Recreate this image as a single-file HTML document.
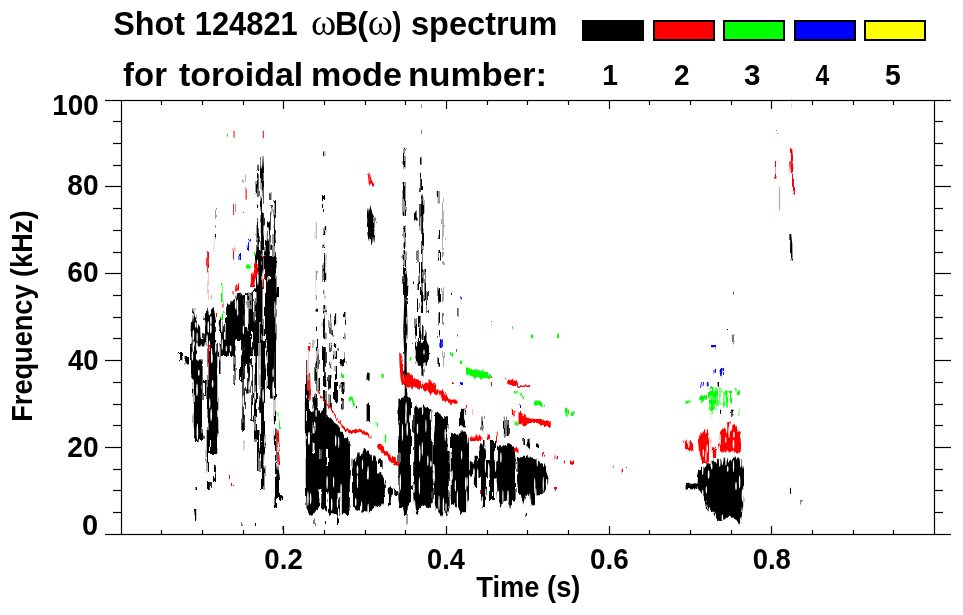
<!DOCTYPE html>
<html><head><meta charset="utf-8"><style>
html,body{margin:0;padding:0;background:#fff;}
svg{display:block;}
.t{font-family:"Liberation Sans",Arial,sans-serif;font-weight:bold;font-size:29px;fill:#000;}
.h{font-family:"Liberation Sans",Arial,sans-serif;font-weight:bold;font-size:34px;fill:#000;}
.w{font-family:"Liberation Serif","DejaVu Serif",serif;font-weight:normal;}
</style></head><body>
<svg width="963" height="615" viewBox="0 0 963 615">
<rect width="963" height="615" fill="#fff"/>
<defs><filter id="jag" x="-5%" y="-5%" width="110%" height="110%" color-interpolation-filters="sRGB"><feTurbulence type="fractalNoise" baseFrequency="0.45 0.06" numOctaves="2" seed="3" result="n"/><feDisplacementMap in="SourceGraphic" in2="n" scale="5" xChannelSelector="R" yChannelSelector="G"/></filter></defs><g filter="url(#jag)"><polygon points="261.2,156 262.3,156 263,170 263.6,178 264,250 260.5,250 260.7,178 260.9,170" fill="#000"/><rect x="256.6" y="164.6" width="2.0" height="6.4" fill="#000"/><rect x="256.6" y="174" width="2.0" height="23" fill="#000"/><rect x="256.6" y="204" width="2.0" height="5" fill="#000"/><rect x="256.6" y="218" width="2.0" height="32" fill="#000"/><rect x="267.8" y="221.5" width="1.8" height="34.5" fill="#000"/><rect x="270.3" y="192" width="1.0" height="8" fill="#000"/><rect x="270.3" y="205" width="1.0" height="25" fill="#000"/><rect x="270.3" y="235" width="1.0" height="15" fill="#000"/><rect x="273.6" y="200" width="2.2" height="56" fill="#000"/><rect x="242" y="178" width="1" height="4" fill="#000"/><rect x="242" y="209" width="1" height="3.6" fill="#000"/><rect x="256" y="250" width="6.5" height="90" fill="#000"/><rect x="256.6" y="240" width="2.0" height="10" fill="#000"/><rect x="265" y="256" width="11.5" height="84" fill="#000"/><rect x="265.5" y="240" width="2.5" height="16" fill="#000"/><rect x="271" y="246" width="1.5" height="10" fill="#000"/><rect x="276.5" y="287" width="1.5" height="10" fill="#000"/><rect x="268.3" y="276" width="1.7" height="4.6" fill="#fff"/><polygon points="235,300 236,294 240,292 242,295 245,293 249,294 252,291 255,289 256,288 256,340 235,340" fill="#000"/><rect x="244.8" y="295" width="2.4" height="33" fill="#fff"/><rect x="253.7" y="292" width="1.6" height="29" fill="#fff"/><rect x="249.5" y="294" width="1.0" height="16" fill="#fff"/><polygon points="193.7,308 195.3,308 196.5,318 201,326 203,330 203,340 191,340 192,322" fill="#000"/><polygon points="206.7,308.5 207.8,309 209,316 212.5,309 213.8,308 215.6,318 216,340 203,340 204.3,318" fill="#000"/><polygon points="219.7,321 222,318 223.8,321 224,340 219.5,340" fill="#000"/><polygon points="226.2,306 229,303 231,301 233,300 235,299 235,340 225.5,340" fill="#000"/><rect x="213.6" y="240" width="0.8" height="11" fill="#bbb"/><rect x="215" y="209" width="1" height="31" fill="#999"/><rect x="214.8" y="229" width="1.2" height="8" fill="#000"/><rect x="242.3" y="178.5" width="1.0" height="3.0" fill="#000"/><rect x="190" y="340" width="27" height="6.5" fill="#000"/><rect x="190" y="346.5" width="6" height="13.5" fill="#000"/><rect x="207.5" y="340" width="9.8" height="100" fill="#000"/><rect x="217.3" y="340" width="17.7" height="16" fill="#000"/><rect x="219" y="356" width="1.5" height="18" fill="#000"/><rect x="233.5" y="356" width="1.5" height="28" fill="#000"/><polygon points="191.3,359.5 202.6,359.5 202.6,440 193.7,440 193.7,380 191.3,378" fill="#000"/><rect x="204" y="380" width="2.7" height="17" fill="#000"/><rect x="179" y="352" width="3.3" height="8" fill="#000"/><rect x="185.6" y="356" width="2.4" height="8.4" fill="#000"/><rect x="235" y="340" width="1.4" height="46" fill="#777"/><rect x="240" y="340" width="4.8" height="6.5" fill="#000"/><rect x="240" y="346.5" width="2.3" height="35.5" fill="#000"/><rect x="242.3" y="340" width="2.5" height="91" fill="#000"/><rect x="244.8" y="340" width="8.1" height="24" fill="#000"/><rect x="247.2" y="364" width="2.4" height="29.7" fill="#000"/><rect x="251.3" y="364" width="1.6" height="57" fill="#000"/><rect x="252.9" y="340" width="8.1" height="16" fill="#000"/><rect x="254.5" y="356" width="2.5" height="84" fill="#000"/><rect x="259.4" y="356" width="1.6" height="57" fill="#000"/><rect x="261" y="340" width="4" height="100" fill="#000"/><rect x="266.7" y="340" width="3.3" height="49" fill="#000"/><rect x="270" y="340" width="4.8" height="58.5" fill="#000"/><rect x="274.8" y="340" width="1.2" height="100" fill="#000"/><rect x="194.5" y="430" width="4.1" height="12" fill="#000"/><rect x="206.7" y="430" width="2.3" height="42" fill="#000"/><rect x="210" y="430" width="7.3" height="24" fill="#000"/><rect x="214" y="465" width="1.6" height="17" fill="#000"/><rect x="207.5" y="482" width="3.3" height="8" fill="#000"/><rect x="194.5" y="487" width="1.5" height="3" fill="#000"/><rect x="194.5" y="509" width="1.7" height="12" fill="#000"/><rect x="242.5" y="440" width="0.8" height="11" fill="#777"/><rect x="254" y="430" width="1.5" height="13" fill="#000"/><rect x="254" y="518" width="1" height="8" fill="#000"/><rect x="257" y="430" width="2.5" height="42" fill="#000"/><rect x="261" y="430" width="3.4" height="60" fill="#000"/><rect x="275" y="430" width="1.6" height="31" fill="#000"/><polygon points="275,461 277,463 279,480 279,498 275,498" fill="#000"/><rect x="279" y="495" width="3.3" height="5" fill="#000"/><rect x="274.5" y="498" width="1.5" height="10" fill="#000"/><rect x="241.5" y="522" width="1.0" height="4" fill="#000"/><rect x="282.5" y="526" width="1.0" height="4" fill="#000"/><rect x="323.1" y="151.4" width="1.1" height="4.9" fill="#000"/><rect x="323" y="195" width="1" height="18" fill="#000"/><rect x="323.6" y="226" width="1.6" height="9" fill="#000"/><rect x="315.8" y="221" width="0.8" height="19" fill="#999"/><polygon points="369.6,204 371,207 372.5,213 374.5,218 374.5,228 374,236 373.5,242 372.8,246 371.5,246 369,238 367.5,234 367,226 367.5,218 368.5,210" fill="#000"/><rect x="323.5" y="243.8" width="1.7" height="4.2" fill="#000"/><rect x="323.5" y="254" width="1.7" height="28" fill="#000"/><rect x="323.5" y="291" width="1.7" height="8" fill="#000"/><rect x="323.5" y="304" width="1.7" height="26" fill="#000"/><rect x="323.2" y="318" width="2.6" height="10" fill="#000"/><rect x="315.8" y="269" width="0.9" height="31" fill="#777"/><rect x="315.8" y="308" width="0.9" height="5" fill="#777"/><rect x="329.6" y="313.7" width="0.8" height="13.9" fill="#000"/><rect x="334.6" y="313" width="1.0" height="11" fill="#000"/><rect x="344" y="313" width="1" height="11" fill="#000"/><rect x="315.6" y="310" width="1.5" height="2.4" fill="#000"/><rect x="316" y="326.6" width="1" height="25.4" fill="#000"/><rect x="315.4" y="359" width="1.9" height="31" fill="#000"/><rect x="323" y="310" width="2.6" height="2" fill="#000"/><rect x="323.2" y="315" width="2.2" height="24.3" fill="#000"/><rect x="322.8" y="323" width="3.0" height="4" fill="#000"/><rect x="323" y="347" width="2.8" height="38" fill="#000"/><rect x="323" y="390" width="3.5" height="30" fill="#000"/><rect x="312.7" y="339.3" width="1.5" height="7.7" fill="#000"/><rect x="317.6" y="348" width="1.4" height="21" fill="#555"/><rect x="329.8" y="314" width="1.4" height="8" fill="#555"/><rect x="329.8" y="327.6" width="1.4" height="7.4" fill="#555"/><rect x="329.8" y="343" width="1.4" height="8" fill="#555"/><rect x="329.8" y="361" width="1.4" height="7.6" fill="#555"/><rect x="334.7" y="314" width="1.4" height="11.6" fill="#000"/><rect x="334.7" y="343" width="1.4" height="4" fill="#000"/><rect x="334.7" y="351" width="1.4" height="7.8" fill="#000"/><rect x="334.7" y="366" width="1.4" height="6" fill="#000"/><polygon points="331,329.5 332,329.5 333.7,337 333,338.3" fill="#000"/><rect x="337.6" y="348" width="1.0" height="3" fill="#000"/><rect x="344" y="313" width="1.4" height="12.6" fill="#000"/><rect x="344" y="334.4" width="1.4" height="3.9" fill="#000"/><rect x="344" y="352" width="1.4" height="11.7" fill="#000"/><rect x="306.3" y="360.8" width="1.5" height="59.2" fill="#000"/><rect x="306.2" y="375" width="2.4" height="45" fill="#000"/><rect x="314.5" y="393" width="2.3" height="27" fill="#000"/><rect x="312.5" y="396" width="1.5" height="14" fill="#000"/><rect x="328.3" y="375" width="3.1" height="13" fill="#000"/><rect x="328.6" y="395" width="2.2" height="13" fill="#000"/><rect x="334" y="382" width="4" height="19" fill="#000"/><rect x="335" y="372" width="2" height="8" fill="#000"/><rect x="340.5" y="359" width="2.5" height="6.5" fill="#000"/><rect x="340.5" y="382" width="4.0" height="11" fill="#000"/><rect x="341" y="398" width="3" height="10" fill="#000"/><rect x="318.5" y="378" width="1.5" height="14" fill="#000"/><polygon points="305.9,390 309.8,390 310,410 313,413 316,408 318,408 321,411 325,413.5 328,417 331,418 334,422 338,424 341,431 345,436.5 348.5,440 349.6,455 349.6,504 347.7,515 343,513 338,517 334,513 330,515 326,512 322,508 318,507 315,511 312,516 309,514 306.5,509 305.7,480" fill="#000"/><rect x="312.6" y="421.7" width="1.9" height="11.7" fill="#fff"/><rect x="312.6" y="443" width="1.9" height="10" fill="#fff"/><rect x="319.4" y="449" width="1.9" height="10" fill="#fff"/><rect x="319.4" y="488" width="1.9" height="23" fill="#fff"/><rect x="326" y="449" width="2" height="16" fill="#fff"/><rect x="326" y="492" width="2" height="27" fill="#fff"/><rect x="339.8" y="492" width="2.0" height="24" fill="#fff"/><rect x="314.5" y="518" width="1.0" height="7" fill="#000"/><rect x="325" y="521" width="1" height="4" fill="#000"/><rect x="337" y="517" width="1" height="8" fill="#000"/><rect x="352.6" y="458.8" width="2.4" height="29.2" fill="#000"/><rect x="356" y="404.4" width="1" height="3.9" fill="#000"/><rect x="315.6" y="397.6" width="2.0" height="9.7" fill="#000"/><rect x="323.4" y="380" width="2.9" height="6" fill="#000"/><rect x="328.3" y="380" width="1.9" height="10" fill="#000"/><rect x="336" y="389.8" width="2" height="12.6" fill="#000"/><rect x="342" y="399.5" width="2" height="9.8" fill="#666"/><polygon points="345,444 349.5,444 349.5,515 345,515" fill="#000"/><polygon points="352,470 354,462 356,461 358,452 359,451 360,456 362,455 364,448 365.6,447.8 366.5,452 368,450 369.5,452 371,455 373.4,454 375.4,457 376,462 376,472.5 380,472.5 382,473 384,478 385.8,485.6 385.8,495 384,501 382,505 379,507 376,505 374,510 371,511 368,513 365,511 362,513 359,510 356,511 354,506 352,496" fill="#000"/><polygon points="387.8,488 391,487 394,489 397.5,492 397.5,494.7 393,495 391,497 390.5,506 389,506 389,495 387.8,493" fill="#000"/><rect x="380" y="459.5" width="2.6" height="8.5" fill="#000"/><rect x="366.6" y="403.7" width="3.4" height="18.3" fill="#000"/><rect x="366.6" y="372.7" width="3.0" height="7.9" fill="#000"/><rect x="413" y="281.5" width="1" height="2.5" fill="#000"/><polygon points="404,266.8 406,266.8 407.5,280 406.8,300 407.6,330 406.5,360 407.5,400 403.5,400 404.5,360 403.2,330 404.3,300 403.2,280" fill="#000"/><rect x="403.6" y="147.8" width="1.8" height="20.5" fill="#000"/><rect x="403.6" y="182" width="1.8" height="34" fill="#000"/><rect x="403.6" y="225" width="1.8" height="15" fill="#000"/><rect x="403.6" y="240" width="1.8" height="8" fill="#000"/><rect x="403.6" y="250" width="1.8" height="16" fill="#000"/><rect x="420.5" y="103.4" width="1.0" height="4.6" fill="#000"/><rect x="420.5" y="129.6" width="1.0" height="4.4" fill="#000"/><rect x="420" y="155.8" width="1.5" height="9.2" fill="#000"/><rect x="420.3" y="172.8" width="1.7" height="18.2" fill="#000"/><rect x="421.3" y="195.6" width="2.0" height="54.4" fill="#000"/><rect x="419.3" y="205" width="1.0" height="25" fill="#000"/><rect x="437.8" y="191" width="1.6" height="12.6" fill="#000"/><rect x="442.3" y="198" width="1.3" height="52" fill="#888"/><rect x="415" y="211.5" width="1.6" height="9.1" fill="#000"/><rect x="416" y="250" width="1.5" height="12" fill="#000"/><rect x="418.5" y="262" width="1.5" height="28" fill="#000"/><rect x="421" y="250" width="1.5" height="62" fill="#000"/><rect x="424.5" y="270" width="1.5" height="30" fill="#000"/><rect x="426.5" y="290" width="1.3" height="23" fill="#000"/><rect x="417" y="298" width="1.5" height="14" fill="#000"/><rect x="415.5" y="318" width="1.5" height="22" fill="#000"/><rect x="419" y="316" width="1.5" height="29" fill="#000"/><rect x="422" y="325" width="1.5" height="15" fill="#000"/><rect x="425" y="330" width="1.5" height="15" fill="#000"/><polygon points="414.4,344 418,341 422,343 426,340 429,346 429,360 426,366.6 420,366 416,364 414.4,356" fill="#000"/><rect x="438.5" y="230" width="1.5" height="9" fill="#000"/><rect x="438.5" y="250" width="1.5" height="9.6" fill="#000"/><rect x="438.5" y="287" width="1.5" height="16" fill="#000"/><rect x="438.5" y="312" width="1.5" height="13.6" fill="#000"/><rect x="438.5" y="330" width="1.5" height="7" fill="#000"/><rect x="438.5" y="357" width="1.5" height="9.6" fill="#000"/><rect x="442.5" y="261" width="1.0" height="4" fill="#555"/><rect x="442.5" y="287" width="1.0" height="16" fill="#555"/><rect x="442.5" y="313" width="1.0" height="12" fill="#555"/><rect x="442.5" y="352" width="1.0" height="15" fill="#555"/><rect x="457" y="308" width="1.7" height="8" fill="#666"/><rect x="457" y="335.5" width="1" height="2.0" fill="#666"/><rect x="456" y="348" width="1" height="3" fill="#666"/><rect x="420.4" y="364" width="3.1" height="12.7" fill="#000"/><polygon points="398.4,400 401,397 404,398 407,396.4 411,398.7 411,503.6 408,506 406.5,515 404.5,515 403,508 400,508 398.4,500" fill="#000"/><polygon points="413.2,407.8 416,405 420,408 424,404 428,408 432.6,410 432.8,503 430,508 427,507 423,505 419.5,508 417.5,515 416,515 414,505 413.2,495" fill="#000"/><polygon points="433.7,415 437,412 440,414 443,418 447,416 449.6,424 449.6,508 447,516.7 444,511 441,516.7 438,510 436,508 434.2,500" fill="#000"/><polygon points="450.8,435 454,433 458,435 462,431 465,432 469,438 469,499 467,505 465,512 461,513.8 458,509 455,503 452,505 450.8,500" fill="#000"/><rect x="447.4" y="403" width="3.4" height="48" fill="#fff"/><rect x="431.4" y="403" width="2.3" height="38" fill="#fff"/><rect x="448.8" y="471.6" width="2.9" height="17.4" fill="#fff"/><polygon points="460,408.8 465,408.8 465,426.3 460,426.3" fill="#000"/><polygon points="469.8,462 475,460.6 480,459 486,460 492,460 497.4,461 497.4,477 492,478 486,477 480,478 474,477 469.8,476" fill="#000"/><rect x="474.6" y="455.8" width="3.3" height="6.2" fill="#000"/><polygon points="479.5,446 482,444 484,447 486,452 486,460 479.5,460" fill="#000"/><rect x="490" y="441" width="5" height="20" fill="#000"/><rect x="483" y="440" width="1.5" height="6" fill="#000"/><rect x="473.8" y="477" width="3.2" height="11" fill="#000"/><rect x="481" y="477" width="5" height="31" fill="#000"/><rect x="489" y="477" width="5" height="23" fill="#000"/><polygon points="497,446 501,445 505,447 509,444 514.6,448 515.6,460 515.6,500.7 512,500 510,510 507,500 503,503 500.5,511 498,500 496.7,480" fill="#000"/><rect x="481.5" y="416.6" width="1.9" height="13.6" fill="#000"/><rect x="503.9" y="416.6" width="1.6" height="21.4" fill="#000"/><rect x="506.5" y="420" width="2.3" height="16" fill="#000"/><rect x="515" y="471.6" width="3.5" height="17.4" fill="#fff"/><polygon points="517.6,457 522,456 526,455.6 531,458 536,460 540,462 544,465 547,470 549.5,477.6 547,486 544,492 540,494 535,495 535,506.5 532,506 529,496 526,494 523,505 521,494 518,492 517,480" fill="#000"/><rect x="523.4" y="439" width="1.6" height="7" fill="#000"/><rect x="527.5" y="438" width="2.0" height="9.8" fill="#000"/><rect x="536.6" y="444" width="1.2" height="3.3" fill="#000"/><rect x="406" y="515" width="0.8" height="10" fill="#888"/><rect x="525.5" y="513" width="1.5" height="3.7" fill="#000"/><rect x="442.3" y="251" width="1.1" height="5" fill="#555"/><rect x="442.3" y="313" width="1.1" height="12" fill="#555"/><rect x="537" y="443.4" width="0.8" height="3.9" fill="#000"/><rect x="733.4" y="291.7" width="1.0" height="2.9" fill="#000"/><rect x="727" y="326" width="1" height="4" fill="#000"/><rect x="732.8" y="334.6" width="1.6" height="8.8" fill="#777"/><rect x="717.6" y="382" width="1.4" height="4.9" fill="#000"/><rect x="721" y="408.7" width="1" height="4.1" fill="#000"/><rect x="731" y="408.7" width="1.7" height="7.5" fill="#000"/><polygon points="722,460 724,456.5 726,461 729,458 731,462 734,455.6 736,460 738,457 741,461 743.2,470 743.2,505 742,515 740,524 736,520 730,516 726,518 722,522 717,520 714,512 707,510 706,503 704,497 701,492 698,490 696.8,486 697,480 699,472 702,466 705,468 707,462 710,464 713,459 716,463 719,458" fill="#000"/><polygon points="684.6,485 688,482.4 692,484 696.8,483 696.8,489.8 690,489 684.6,489.8" fill="#000"/><polygon points="789.5,234 791,234 792.3,245 792.5,260.6 791,260.6 789,248" fill="#000"/><rect x="790" y="487.8" width="1.2" height="6.2" fill="#000"/><rect x="800.5" y="500" width="1.0" height="4.6" fill="#000"/><rect x="236" y="340" width="1.6" height="50" fill="#fff"/><rect x="254" y="292" width="1.2" height="31" fill="#fff"/><rect x="259.4" y="323" width="1.2" height="67" fill="#fff"/><rect x="247.5" y="300" width="1.0" height="30" fill="#fff"/><rect x="251" y="330" width="1" height="30" fill="#fff"/><rect x="201.8" y="319" width="2.4" height="20" fill="#fff"/><rect x="217" y="329" width="2.8" height="15" fill="#fff"/></g><g fill="#fff"><ellipse cx="218.2" cy="330.2" rx="0.62" ry="6.9"/><ellipse cx="236.6" cy="373.1" rx="0.73" ry="3.3"/><ellipse cx="193.3" cy="386.7" rx="0.62" ry="3.4"/><ellipse cx="226.9" cy="465.4" rx="0.66" ry="3.7"/><ellipse cx="244.6" cy="489.5" rx="0.70" ry="6.5"/><ellipse cx="274.9" cy="309.3" rx="0.67" ry="8.2"/><ellipse cx="202.6" cy="323.6" rx="0.80" ry="4.9"/><ellipse cx="205.7" cy="416.3" rx="0.69" ry="6.8"/><ellipse cx="237.7" cy="312.6" rx="0.65" ry="3.4"/><ellipse cx="249.2" cy="385.5" rx="0.75" ry="4.9"/><ellipse cx="229.4" cy="360.0" rx="0.77" ry="7.8"/><ellipse cx="211.2" cy="414.9" rx="0.82" ry="6.2"/><ellipse cx="253.5" cy="357.6" rx="0.63" ry="8.9"/><ellipse cx="226.4" cy="451.4" rx="0.72" ry="3.9"/><ellipse cx="193.4" cy="433.6" rx="0.74" ry="7.6"/><ellipse cx="266.2" cy="362.7" rx="0.75" ry="7.2"/><ellipse cx="240.5" cy="391.2" rx="0.84" ry="8.0"/><ellipse cx="231.2" cy="432.8" rx="0.78" ry="3.4"/><ellipse cx="246.3" cy="498.6" rx="0.67" ry="7.9"/><ellipse cx="223.6" cy="433.7" rx="0.72" ry="3.1"/><ellipse cx="204.6" cy="323.4" rx="0.79" ry="3.4"/><ellipse cx="201.3" cy="349.5" rx="0.82" ry="5.3"/><ellipse cx="197.0" cy="389.8" rx="0.82" ry="6.3"/><ellipse cx="261.3" cy="472.8" rx="0.70" ry="4.7"/><ellipse cx="221.2" cy="476.8" rx="0.64" ry="8.7"/><ellipse cx="205.3" cy="346.4" rx="0.72" ry="4.4"/><ellipse cx="241.3" cy="352.5" rx="0.70" ry="3.0"/><ellipse cx="222.1" cy="413.3" rx="0.77" ry="8.7"/><ellipse cx="234.8" cy="423.5" rx="0.61" ry="7.1"/><ellipse cx="268.3" cy="456.0" rx="0.80" ry="8.2"/><ellipse cx="224.1" cy="379.8" rx="0.76" ry="3.6"/><ellipse cx="195.4" cy="313.5" rx="0.64" ry="4.3"/><ellipse cx="219.6" cy="310.5" rx="0.64" ry="3.0"/><ellipse cx="198.8" cy="372.7" rx="0.82" ry="3.2"/><ellipse cx="243.4" cy="329.7" rx="0.69" ry="4.5"/><ellipse cx="221.7" cy="324.6" rx="0.85" ry="8.1"/><ellipse cx="230.5" cy="396.8" rx="0.63" ry="3.5"/><ellipse cx="219.8" cy="353.0" rx="0.64" ry="8.0"/><ellipse cx="192.0" cy="490.2" rx="0.64" ry="6.2"/><ellipse cx="237.3" cy="305.4" rx="0.84" ry="6.2"/><ellipse cx="265.1" cy="439.2" rx="0.69" ry="4.6"/><ellipse cx="204.5" cy="454.4" rx="0.79" ry="6.2"/><ellipse cx="218.7" cy="344.6" rx="0.85" ry="7.9"/><ellipse cx="264.2" cy="461.2" rx="0.78" ry="7.9"/><ellipse cx="209.7" cy="403.5" rx="0.61" ry="5.1"/><ellipse cx="192.4" cy="355.9" rx="0.77" ry="4.6"/><ellipse cx="273.2" cy="389.4" rx="0.85" ry="8.6"/><ellipse cx="273.1" cy="372.9" rx="0.66" ry="4.3"/><ellipse cx="207.1" cy="340.9" rx="0.83" ry="6.7"/><ellipse cx="263.1" cy="395.9" rx="0.80" ry="6.9"/><ellipse cx="197.4" cy="432.1" rx="0.80" ry="8.5"/><ellipse cx="255.3" cy="395.6" rx="0.80" ry="4.1"/><ellipse cx="218.9" cy="460.2" rx="0.70" ry="8.8"/><ellipse cx="224.9" cy="489.4" rx="0.64" ry="7.3"/><ellipse cx="201.1" cy="330.2" rx="0.80" ry="8.4"/><ellipse cx="202.7" cy="465.3" rx="0.76" ry="8.9"/><ellipse cx="220.5" cy="409.7" rx="0.60" ry="3.8"/><ellipse cx="274.5" cy="429.9" rx="0.83" ry="6.2"/><ellipse cx="227.7" cy="474.3" rx="0.65" ry="8.0"/><ellipse cx="211.9" cy="358.6" rx="0.75" ry="4.4"/><ellipse cx="212.6" cy="383.8" rx="0.83" ry="3.8"/><ellipse cx="220.8" cy="391.6" rx="0.83" ry="6.5"/><ellipse cx="226.6" cy="483.5" rx="0.73" ry="6.0"/><ellipse cx="235.5" cy="303.7" rx="0.65" ry="5.6"/><ellipse cx="190.3" cy="459.8" rx="0.72" ry="4.0"/><ellipse cx="253.1" cy="411.3" rx="0.73" ry="5.0"/><ellipse cx="238.3" cy="456.9" rx="0.74" ry="3.6"/><ellipse cx="211.6" cy="355.4" rx="0.73" ry="7.6"/><ellipse cx="238.9" cy="452.0" rx="0.71" ry="8.5"/><ellipse cx="243.3" cy="401.1" rx="0.77" ry="6.1"/><ellipse cx="210.8" cy="329.0" rx="0.84" ry="4.2"/><ellipse cx="222.2" cy="344.4" rx="0.66" ry="5.8"/><ellipse cx="215.7" cy="347.4" rx="0.63" ry="5.4"/><ellipse cx="195.6" cy="324.9" rx="0.66" ry="2.8"/><ellipse cx="193.4" cy="335.1" rx="0.82" ry="5.2"/><ellipse cx="197.1" cy="337.2" rx="0.64" ry="4.8"/><ellipse cx="230.6" cy="348.5" rx="0.84" ry="3.3"/><ellipse cx="208.3" cy="326.9" rx="0.81" ry="6.0"/><ellipse cx="197.4" cy="324.4" rx="0.68" ry="4.3"/><ellipse cx="199.0" cy="319.3" rx="0.60" ry="5.0"/><ellipse cx="215.5" cy="324.8" rx="0.68" ry="2.6"/><ellipse cx="218.7" cy="328.1" rx="0.85" ry="2.7"/><ellipse cx="226.3" cy="348.7" rx="0.67" ry="2.9"/><ellipse cx="191.8" cy="340.1" rx="0.63" ry="3.4"/><ellipse cx="209.4" cy="346.0" rx="0.66" ry="5.4"/><ellipse cx="196.9" cy="346.4" rx="0.78" ry="4.5"/><ellipse cx="194.1" cy="307.6" rx="0.71" ry="4.9"/><ellipse cx="193.3" cy="347.2" rx="0.80" ry="4.7"/><ellipse cx="193.9" cy="343.5" rx="0.82" ry="2.7"/><ellipse cx="210.9" cy="320.3" rx="0.83" ry="4.4"/><ellipse cx="202.3" cy="310.8" rx="0.66" ry="4.3"/><ellipse cx="195.0" cy="312.3" rx="0.65" ry="2.7"/><ellipse cx="262.6" cy="202.7" rx="0.67" ry="6.8"/><ellipse cx="266.5" cy="184.9" rx="0.60" ry="4.7"/><ellipse cx="261.3" cy="162.1" rx="0.74" ry="6.7"/><ellipse cx="260.0" cy="226.5" rx="0.63" ry="7.7"/><ellipse cx="273.2" cy="220.5" rx="0.81" ry="5.5"/><ellipse cx="264.3" cy="230.9" rx="0.85" ry="6.4"/><ellipse cx="263.2" cy="276.5" rx="0.76" ry="6.5"/><ellipse cx="264.5" cy="208.7" rx="0.63" ry="3.3"/><ellipse cx="257.5" cy="263.7" rx="0.64" ry="4.3"/><ellipse cx="257.8" cy="277.8" rx="0.77" ry="7.4"/><ellipse cx="261.9" cy="193.9" rx="0.71" ry="4.5"/><ellipse cx="259.3" cy="222.4" rx="0.84" ry="4.3"/><ellipse cx="276.4" cy="236.6" rx="0.84" ry="4.2"/><ellipse cx="262.5" cy="209.9" rx="0.70" ry="3.0"/><ellipse cx="266.0" cy="230.4" rx="0.73" ry="4.0"/><ellipse cx="256.1" cy="197.0" rx="0.70" ry="3.4"/><ellipse cx="256.9" cy="163.1" rx="0.66" ry="4.5"/><ellipse cx="268.3" cy="234.1" rx="0.76" ry="6.8"/><ellipse cx="337.5" cy="503.2" rx="0.68" ry="4.9"/><ellipse cx="349.3" cy="425.8" rx="0.76" ry="6.6"/><ellipse cx="307.9" cy="498.5" rx="0.76" ry="7.5"/><ellipse cx="338.3" cy="496.1" rx="0.73" ry="3.7"/><ellipse cx="328.2" cy="498.5" rx="0.81" ry="7.0"/><ellipse cx="331.7" cy="504.6" rx="0.77" ry="6.4"/><ellipse cx="316.1" cy="413.3" rx="0.69" ry="3.7"/><ellipse cx="310.6" cy="498.6" rx="0.76" ry="5.8"/><ellipse cx="333.6" cy="482.2" rx="0.60" ry="5.4"/><ellipse cx="341.1" cy="489.3" rx="0.73" ry="5.5"/><ellipse cx="335.0" cy="417.0" rx="0.66" ry="6.7"/><ellipse cx="309.3" cy="438.1" rx="0.65" ry="6.6"/><ellipse cx="338.6" cy="513.4" rx="0.70" ry="5.5"/><ellipse cx="327.1" cy="482.5" rx="0.75" ry="6.8"/><ellipse cx="334.3" cy="418.2" rx="0.66" ry="3.7"/><ellipse cx="338.7" cy="442.3" rx="0.60" ry="5.8"/><ellipse cx="308.7" cy="438.5" rx="0.77" ry="6.4"/><ellipse cx="335.7" cy="440.8" rx="0.72" ry="5.6"/><ellipse cx="372.5" cy="454.8" rx="0.65" ry="6.6"/><ellipse cx="396.0" cy="508.8" rx="0.71" ry="3.1"/><ellipse cx="388.7" cy="510.9" rx="0.67" ry="4.8"/><ellipse cx="360.7" cy="509.4" rx="0.75" ry="3.8"/><ellipse cx="357.5" cy="481.6" rx="0.63" ry="6.8"/><ellipse cx="388.7" cy="480.6" rx="0.78" ry="6.5"/><ellipse cx="361.6" cy="506.2" rx="0.61" ry="4.9"/><ellipse cx="351.2" cy="479.5" rx="0.68" ry="4.8"/><ellipse cx="357.5" cy="469.7" rx="0.81" ry="4.3"/><ellipse cx="351.1" cy="496.5" rx="0.63" ry="6.4"/><ellipse cx="393.6" cy="494.1" rx="0.67" ry="6.6"/><ellipse cx="368.1" cy="472.9" rx="0.75" ry="7.0"/><ellipse cx="367.6" cy="475.3" rx="0.61" ry="4.1"/><ellipse cx="355.7" cy="502.1" rx="0.83" ry="4.1"/><ellipse cx="362.5" cy="464.5" rx="0.65" ry="5.0"/><ellipse cx="368.2" cy="510.1" rx="0.80" ry="6.5"/><ellipse cx="443.4" cy="506.0" rx="0.74" ry="8.6"/><ellipse cx="449.8" cy="405.7" rx="0.71" ry="7.4"/><ellipse cx="452.2" cy="474.8" rx="0.61" ry="4.7"/><ellipse cx="464.7" cy="414.8" rx="0.69" ry="5.8"/><ellipse cx="419.4" cy="485.7" rx="0.67" ry="8.9"/><ellipse cx="445.2" cy="434.9" rx="0.70" ry="6.3"/><ellipse cx="410.0" cy="418.8" rx="0.83" ry="4.2"/><ellipse cx="433.8" cy="425.5" rx="0.85" ry="8.4"/><ellipse cx="430.4" cy="416.2" rx="0.62" ry="4.2"/><ellipse cx="422.6" cy="410.6" rx="0.66" ry="4.4"/><ellipse cx="439.0" cy="502.9" rx="0.70" ry="7.5"/><ellipse cx="427.8" cy="460.8" rx="0.68" ry="5.3"/><ellipse cx="402.5" cy="432.2" rx="0.63" ry="8.8"/><ellipse cx="434.2" cy="473.0" rx="0.65" ry="8.2"/><ellipse cx="417.5" cy="428.8" rx="0.71" ry="5.4"/><ellipse cx="466.7" cy="498.4" rx="0.61" ry="8.2"/><ellipse cx="400.3" cy="482.3" rx="0.72" ry="8.4"/><ellipse cx="440.3" cy="400.0" rx="0.83" ry="5.3"/><ellipse cx="457.4" cy="499.2" rx="0.66" ry="8.8"/><ellipse cx="405.9" cy="417.9" rx="0.77" ry="6.1"/><ellipse cx="465.8" cy="483.7" rx="0.79" ry="6.9"/><ellipse cx="430.9" cy="464.0" rx="0.80" ry="3.2"/><ellipse cx="414.7" cy="506.7" rx="0.68" ry="6.9"/><ellipse cx="407.2" cy="429.2" rx="0.77" ry="6.8"/><ellipse cx="406.1" cy="408.2" rx="0.75" ry="6.1"/><ellipse cx="425.9" cy="425.9" rx="0.60" ry="6.6"/><ellipse cx="419.7" cy="453.4" rx="0.76" ry="8.8"/><ellipse cx="461.6" cy="455.1" rx="0.66" ry="4.4"/><ellipse cx="467.2" cy="481.7" rx="0.61" ry="4.8"/><ellipse cx="433.9" cy="478.2" rx="0.66" ry="5.5"/><ellipse cx="446.0" cy="507.3" rx="0.61" ry="4.4"/><ellipse cx="422.3" cy="448.8" rx="0.65" ry="7.1"/><ellipse cx="455.4" cy="485.7" rx="0.65" ry="6.0"/><ellipse cx="467.8" cy="436.2" rx="0.66" ry="7.9"/><ellipse cx="413.9" cy="488.2" rx="0.84" ry="4.8"/><ellipse cx="433.7" cy="421.7" rx="0.70" ry="4.3"/><ellipse cx="424.0" cy="364.9" rx="0.70" ry="2.3"/><ellipse cx="417.2" cy="365.4" rx="0.61" ry="2.3"/><ellipse cx="414.9" cy="352.7" rx="0.82" ry="3.8"/><ellipse cx="425.0" cy="365.9" rx="0.68" ry="3.9"/><ellipse cx="416.8" cy="364.6" rx="0.61" ry="3.5"/><ellipse cx="424.0" cy="352.3" rx="0.68" ry="2.7"/><ellipse cx="416.5" cy="344.1" rx="0.69" ry="2.6"/><ellipse cx="546.4" cy="448.7" rx="0.65" ry="7.8"/><ellipse cx="498.5" cy="497.5" rx="0.71" ry="7.1"/><ellipse cx="473.9" cy="473.1" rx="0.83" ry="4.9"/><ellipse cx="485.4" cy="465.5" rx="0.61" ry="7.5"/><ellipse cx="502.9" cy="496.8" rx="0.61" ry="6.8"/><ellipse cx="472.8" cy="444.4" rx="0.66" ry="7.6"/><ellipse cx="529.8" cy="502.9" rx="0.67" ry="4.7"/><ellipse cx="546.6" cy="483.2" rx="0.78" ry="4.3"/><ellipse cx="495.3" cy="459.3" rx="0.79" ry="3.0"/><ellipse cx="543.3" cy="484.4" rx="0.61" ry="7.7"/><ellipse cx="488.7" cy="473.3" rx="0.84" ry="7.8"/><ellipse cx="500.9" cy="457.6" rx="0.72" ry="5.1"/><ellipse cx="544.2" cy="452.8" rx="0.78" ry="7.0"/><ellipse cx="535.8" cy="494.1" rx="0.68" ry="6.0"/><ellipse cx="495.6" cy="465.3" rx="0.62" ry="6.9"/><ellipse cx="485.8" cy="492.7" rx="0.62" ry="4.2"/><ellipse cx="472.7" cy="478.7" rx="0.85" ry="4.6"/><ellipse cx="540.7" cy="509.1" rx="0.62" ry="4.3"/><ellipse cx="477.7" cy="474.9" rx="0.71" ry="6.5"/><ellipse cx="488.7" cy="469.2" rx="0.77" ry="6.1"/><ellipse cx="529.8" cy="499.3" rx="0.63" ry="6.3"/><ellipse cx="537.3" cy="460.6" rx="0.69" ry="5.8"/><ellipse cx="529.0" cy="453.9" rx="0.66" ry="4.2"/><ellipse cx="482.3" cy="501.9" rx="0.68" ry="5.9"/><ellipse cx="501.7" cy="509.5" rx="0.66" ry="5.5"/><ellipse cx="534.7" cy="485.7" rx="0.63" ry="8.0"/><ellipse cx="508.0" cy="497.3" rx="0.83" ry="7.2"/><ellipse cx="473.2" cy="460.6" rx="0.65" ry="3.6"/><ellipse cx="742.4" cy="495.2" rx="0.69" ry="6.7"/><ellipse cx="736.0" cy="486.0" rx="0.79" ry="4.0"/><ellipse cx="740.7" cy="462.3" rx="0.75" ry="5.4"/><ellipse cx="697.1" cy="480.4" rx="0.65" ry="3.6"/><ellipse cx="699.3" cy="496.4" rx="0.65" ry="5.6"/><ellipse cx="684.7" cy="477.6" rx="0.65" ry="5.7"/><ellipse cx="702.7" cy="469.0" rx="0.74" ry="6.2"/><ellipse cx="687.8" cy="462.0" rx="0.74" ry="4.6"/><ellipse cx="722.4" cy="461.3" rx="0.77" ry="3.7"/><ellipse cx="708.6" cy="474.5" rx="0.84" ry="4.2"/><ellipse cx="702.7" cy="494.1" rx="0.70" ry="4.4"/><ellipse cx="735.9" cy="523.8" rx="0.65" ry="4.5"/><ellipse cx="727.7" cy="469.1" rx="0.83" ry="3.0"/><ellipse cx="709.4" cy="511.6" rx="0.82" ry="4.6"/><ellipse cx="711.7" cy="466.2" rx="0.74" ry="3.1"/><ellipse cx="722.4" cy="517.8" rx="0.76" ry="3.4"/><ellipse cx="706.3" cy="489.8" rx="0.67" ry="3.6"/><ellipse cx="715.3" cy="518.9" rx="0.72" ry="3.4"/><ellipse cx="732.3" cy="521.7" rx="0.63" ry="3.8"/><ellipse cx="740.6" cy="522.3" rx="0.61" ry="4.9"/><ellipse cx="739.6" cy="481.8" rx="0.76" ry="6.6"/><ellipse cx="733.5" cy="466.1" rx="0.66" ry="6.1"/></g><g filter="url(#jag)"><rect x="245.6" y="173.6" width="1.1" height="26.0" fill="#f00"/><polygon points="247,251 248,244 249.5,238.6 250.4,239.5 249,246 248.5,251" fill="#00f"/><rect x="263" y="256" width="1" height="33" fill="#f00"/><polygon points="250,287 252,276 254,264 256,261 258,262 257,272 255,280 254,287" fill="#f00"/><polygon points="235.8,292 236.5,286 238.3,283 238,290" fill="#f00"/><rect x="246.4" y="264.4" width="4.0" height="4.1" fill="#0f0"/><rect x="240" y="264" width="1" height="4" fill="#0f0"/><rect x="255" y="253" width="1" height="3" fill="#0f0"/><polygon points="247,251 248.5,244 250.4,240 249.5,248 248.5,251" fill="#00f"/><rect x="239.5" y="253" width="1.5" height="7" fill="#00f"/><rect x="207.2" y="252" width="1.8" height="20.5" fill="#f00"/><rect x="208" y="272.5" width="0.6" height="27.5" fill="#f99"/><rect x="232.7" y="248" width="1.6" height="11.5" fill="#f00"/><rect x="233.5" y="291" width="1.0" height="4" fill="#f00"/><rect x="211.6" y="295" width="1.1" height="4" fill="#f00"/><rect x="216" y="313" width="1" height="3" fill="#f00"/><rect x="221.5" y="304" width="1.0" height="4" fill="#f00"/><rect x="220.9" y="283" width="1.6" height="20" fill="#0f0"/><polygon points="221,319.7 222,313 223.8,311.5 223.5,319.7" fill="#0f0"/><rect x="233.5" y="130.7" width="1.0" height="6.9" fill="#f00"/><rect x="227" y="134" width="1" height="3.6" fill="#0f0"/><rect x="262.8" y="129.8" width="1.0" height="8.7" fill="#f00"/><rect x="233.2" y="204" width="1.3" height="16.5" fill="#f00"/><polygon points="277.3,413 278.5,414 280.5,428 279.5,430" fill="#0f0"/><rect x="277" y="432" width="1" height="8" fill="#f00"/><polygon points="276.6,430 277.6,430 278.5,443 280.7,458 280.7,465 278.5,465 277.5,445" fill="#f00"/><polygon points="368,173.5 369,173.3 370.5,180 372,181 374,184 374,186.5 372.5,186 371,183 369.5,186 368.5,182" fill="#f00"/><rect x="308" y="343" width="1.3" height="7" fill="#f00"/><rect x="308.3" y="350" width="0.6" height="50" fill="#f99"/><polygon points="309,372 310.3,372 310.6,400 309.4,400" fill="#f00"/><rect x="342" y="373.7" width="2" height="3.3" fill="#0f0"/><polygon points="349.5,396.4 351,397 353.5,403 352.5,404.5 350,400" fill="#0f0"/><polygon points="317.0,389.5 321.0,395.0 325.4,400.5 329.0,405.5 332.2,410.0 336.0,415.5 339.0,420.5 342.0,426.0 346.8,429.0 351.0,430.0 354.6,430.0 358.5,428.0 362.0,430.0 366.0,432.0 370.0,434.5 370.8,437.9 366.8,435.4 362.8,433.4 359.3,431.4 355.4,433.4 351.8,433.4 347.6,432.4 342.8,429.4 339.8,423.9 336.8,418.9 333.0,413.4 329.8,408.9 326.2,403.9 321.8,398.4 317.8,392.9" fill="#f00"/><polygon points="308.3,380 309.5,380 310.2,388 310.4,399.5 309,399.5 308.3,390" fill="#f00"/><rect x="348.8" y="395.6" width="1.2" height="7.4" fill="#0f0"/><polygon points="351,398 352.5,399 354.1,406 353,407.3" fill="#0f0"/><polygon points="349.5,397 351,396 355,404 354,408" fill="#0f0"/><rect x="375.7" y="423" width="3.3" height="3.4" fill="#0f0"/><rect x="384.8" y="435.5" width="2.2" height="6.9" fill="#0f0"/><rect x="381.4" y="373.8" width="2.3" height="3.4" fill="#0f0"/><polygon points="378,442.4 382,446 386,451 390,455 395,459 398.5,462 398.5,466 395,465 390,461 385,456 380,450 377,446" fill="#f00"/><rect x="439.4" y="339" width="3.4" height="8" fill="#00f"/><rect x="450.8" y="290" width="1.2" height="5" fill="#00f"/><rect x="460.5" y="296" width="1.3" height="3.4" fill="#00f"/><rect x="451" y="291" width="1" height="3.6" fill="#00f"/><rect x="409.8" y="356" width="1.6" height="3.7" fill="#0f0"/><rect x="451" y="353" width="1" height="3" fill="#0f0"/><rect x="460" y="360.6" width="2" height="3.4" fill="#0f0"/><rect x="451" y="352.7" width="1" height="3.3" fill="#0f0"/><rect x="440" y="339" width="2" height="8" fill="#00f"/><polygon points="399.2,352.4 400.5,353 402,363 403.5,372 404,385 402,385.2 400.5,378 399.5,365" fill="#f00"/><polygon points="404,377 405,376 407,373.5 409,374 410.5,376 412,375 414,378.8 417,379.5 420,380 421.4,383 421.4,387 419,390.5 416,387 413,390.5 410,386 407,387 404,383" fill="#f00"/><polygon points="421,384 423.5,385 426,382 428,383 430,378.8 432,384 434,382 435.5,386 437,389 439.4,390 439.4,394 436,394.7 433,392 430,394.7 427,391 423.5,390 421,387" fill="#f00"/><polygon points="439,391 441.5,392 443,389.4 445,392 447.9,398 449,399.4 457.4,399.4 457.4,403.7 449,403.7 447.9,402 444,401 441.5,399" fill="#f00"/><rect x="452" y="382" width="1" height="4" fill="#f00"/><rect x="395" y="455.6" width="1" height="6.8" fill="#f00"/><rect x="479" y="490.5" width="1.8" height="4.5" fill="#f00"/><polygon points="465,368 467,366 470,369 473,370 476,369 479,371 482,369 485,372 488,372 490,376 490,379 486,378 482,379 478,377 474,378 470,376 466,373" fill="#0f0"/><rect x="491" y="377.5" width="1" height="7.9" fill="#f00"/><polygon points="506,378.5 509,380 512,378.5 515,381 518.5,383 518.5,386.3 513,386 508,384" fill="#f00"/><rect x="518.5" y="385.4" width="12.5" height="1.6" fill="#f00"/><rect x="530" y="385" width="1" height="4" fill="#f00"/><rect x="514.6" y="391" width="2.0" height="3" fill="#0f0"/><polygon points="519.5,392 521,393 524.4,398 523.5,399.5 520,395" fill="#0f0"/><polygon points="534,400 540,401 544,404 543,407 538,405 534,404" fill="#0f0"/><rect x="566.3" y="408.8" width="2.0" height="7.8" fill="#0f0"/><rect x="572" y="413" width="2" height="3" fill="#0f0"/><rect x="519.5" y="404" width="1.5" height="4" fill="#00f"/><rect x="460" y="382.4" width="3" height="3.0" fill="#00f"/><polygon points="511.7,409 514.6,411 514.6,416.6 512,415" fill="#f00"/><polygon points="518.5,411 521,410.7 524.4,416 530,418.5 536,419 542,419 546,420 549.8,421 549.8,426.3 543,425 537,423 530,423 524.4,425.4 518.5,424" fill="#f00"/><rect x="514.6" y="421.5" width="3.0" height="3.9" fill="#0f0"/><rect x="546" y="430" width="1" height="4" fill="#0f0"/><rect x="545.6" y="429.8" width="1.0" height="3.9" fill="#0f0"/><rect x="465" y="400" width="1" height="7.8" fill="#f00"/><rect x="472.7" y="408.8" width="1.3" height="5.8" fill="#f00"/><polygon points="470.6,441 472,436 474,438 476,433 478,437 480,434 482.8,438 482,441 478,440 475,441" fill="#f00"/><rect x="487.6" y="434.6" width="1.7" height="6.4" fill="#f00"/><rect x="495.8" y="431.4" width="1.9" height="11.4" fill="#f00"/><rect x="503" y="425.7" width="1" height="3.3" fill="#f00"/><rect x="479" y="490" width="1" height="4.8" fill="#f00"/><rect x="496" y="432" width="1" height="10" fill="#f00"/><rect x="513.7" y="447.8" width="4.8" height="3.9" fill="#f00"/><rect x="543" y="452.7" width="1" height="3.9" fill="#f00"/><rect x="555.6" y="455.6" width="0.8" height="3.9" fill="#f00"/><rect x="564" y="460.5" width="1" height="2.9" fill="#f00"/><rect x="570" y="460.5" width="3" height="3.9" fill="#f00"/><rect x="554" y="487" width="1" height="3" fill="#f00"/><rect x="556" y="456" width="1" height="4" fill="#f00"/><rect x="621.7" y="468.8" width="1.3" height="4.9" fill="#f00"/><rect x="613.5" y="465" width="1.0" height="3" fill="#f00"/><rect x="626" y="466" width="1" height="2" fill="#f00"/><rect x="491" y="322" width="1" height="3.4" fill="#0f0"/><rect x="512" y="325.4" width="1" height="3.4" fill="#0f0"/><rect x="530" y="334.5" width="3.3" height="3.5" fill="#0f0"/><rect x="557" y="334.5" width="1" height="3.5" fill="#0f0"/><rect x="711" y="345" width="5" height="2.3" fill="#00f"/><rect x="715" y="343.4" width="1" height="3.9" fill="#00f"/><rect x="714.5" y="369.8" width="1.5" height="3.9" fill="#00f"/><polygon points="720.3,368.8 723.7,369 722.5,377.6 721.5,377.6" fill="#00f"/><polygon points="700.2,386.9 700.8000000000001,382 701.8000000000001,382 701.2,386.9" fill="#00f"/><polygon points="702.5,386.9 703.1,382 704.1,382 703.5,386.9" fill="#00f"/><polygon points="704.5,386.9 705.1,382 706.1,382 705.5,386.9" fill="#00f"/><polygon points="706.5,386.9 707.1,382 708.1,382 707.5,386.9" fill="#00f"/><polygon points="708,386.9 708.6,382 709.6,382 709,386.9" fill="#00f"/><polygon points="698.9,395 707,395 707,399.8 704,399.8 703.5,403 702,403 701.5,399.8 698.9,399.8" fill="#0f0"/><rect x="709.1" y="392" width="1.4" height="18" fill="#0f0"/><rect x="710.8" y="387" width="1.4" height="27" fill="#0f0"/><rect x="712.5" y="388" width="1.4" height="21" fill="#0f0"/><rect x="714.5" y="386.9" width="1.4" height="23.1" fill="#0f0"/><rect x="716.3" y="389" width="1.4" height="18" fill="#0f0"/><rect x="709.1" y="392" width="8.9" height="4" fill="#0f0"/><rect x="709.5" y="400" width="7.5" height="4" fill="#0f0"/><rect x="719" y="387" width="1.4" height="17" fill="#7f7"/><rect x="720" y="391" width="11" height="1.3" fill="#7f7"/><rect x="720" y="403" width="7" height="1.5" fill="#7f7"/><rect x="723.5" y="391" width="1.3" height="16.5" fill="#0f0"/><rect x="726.2" y="391" width="2.0" height="15.7" fill="#0f0"/><rect x="730" y="391" width="1" height="13" fill="#0f0"/><polygon points="736,387 737,387 739.8,393 739.5,395 737.5,394" fill="#0f0"/><rect x="738" y="408.7" width="1.5" height="8.3" fill="#7f7"/><rect x="690" y="400" width="1" height="4" fill="#7f7"/><rect x="710.8" y="410" width="1.4" height="10" fill="#7f7"/><rect x="684.6" y="400.7" width="4.9" height="2.3" fill="#0f0"/><polygon points="682.2,440 686,438.5 690,441 694.4,443 694,450.7 688,450 683,448" fill="#f00"/><polygon points="698,440 702,432 705,428.8 708,432 710.2,440 710,455 707,463 702,463 699,455" fill="#f00"/><polygon points="711.5,448 714,446 716.3,450 716,458 712,458" fill="#f00"/><polygon points="717.6,440 720,432 723,428 726,432 728,424 730,421.5 732,426 735,424 738,430 740.7,432 740.7,453 735,452 730,451 725,453 720,451 717.6,446" fill="#f00"/><rect x="791" y="99.4" width="1.2" height="8.8" fill="#9f9"/><rect x="777" y="130" width="1" height="4.6" fill="#0f0"/><rect x="789" y="130" width="1" height="4.6" fill="#f88"/><polygon points="790,148 791,148 793,165 794,180 794,194.7 793,194.7 791,175 790,160" fill="#f00"/><rect x="775" y="161" width="1.4" height="17.5" fill="#f00"/><rect x="778.4" y="187.4" width="1.4" height="24.9" fill="#f66"/><rect x="229" y="474" width="1" height="4" fill="#f00"/><rect x="231" y="483" width="1" height="4" fill="#f00"/><rect x="207.8" y="344" width="1.7" height="19" fill="#f00"/><rect x="208.3" y="363" width="0.7" height="17" fill="#f99"/></g><g fill="#fff"><ellipse cx="705.9" cy="456.5" rx="0.65" ry="5.4"/><ellipse cx="694.9" cy="437.8" rx="0.70" ry="4.3"/><ellipse cx="689.3" cy="431.4" rx="0.82" ry="5.0"/><ellipse cx="684.4" cy="444.6" rx="0.61" ry="5.2"/><ellipse cx="731.5" cy="425.9" rx="0.74" ry="4.6"/><ellipse cx="719.0" cy="433.9" rx="0.75" ry="4.0"/><ellipse cx="707.1" cy="448.7" rx="0.71" ry="4.1"/><ellipse cx="683.4" cy="447.0" rx="0.66" ry="4.2"/><ellipse cx="727.1" cy="453.8" rx="0.64" ry="4.1"/><ellipse cx="709.9" cy="425.5" rx="0.71" ry="2.9"/><ellipse cx="687.4" cy="439.6" rx="0.61" ry="4.3"/><ellipse cx="719.5" cy="424.5" rx="0.79" ry="5.1"/><ellipse cx="712.2" cy="423.3" rx="0.69" ry="4.3"/><ellipse cx="738.1" cy="426.7" rx="0.85" ry="5.5"/><ellipse cx="725.2" cy="455.2" rx="0.85" ry="3.2"/><ellipse cx="711.0" cy="461.2" rx="0.64" ry="5.7"/><ellipse cx="728.5" cy="460.1" rx="0.69" ry="2.7"/><ellipse cx="726.6" cy="427.7" rx="0.67" ry="5.6"/><ellipse cx="730.1" cy="427.0" rx="0.83" ry="4.3"/><ellipse cx="694.3" cy="432.0" rx="0.68" ry="4.3"/><ellipse cx="684.2" cy="428.6" rx="0.83" ry="3.1"/><ellipse cx="722.1" cy="458.6" rx="0.80" ry="3.1"/><ellipse cx="688.8" cy="443.3" rx="0.69" ry="4.7"/><ellipse cx="733.5" cy="444.3" rx="0.82" ry="4.5"/><ellipse cx="688.2" cy="462.7" rx="0.70" ry="4.7"/><ellipse cx="729.1" cy="432.1" rx="0.74" ry="6.0"/><ellipse cx="703.3" cy="453.1" rx="0.64" ry="4.0"/><ellipse cx="725.9" cy="423.0" rx="0.66" ry="5.4"/><ellipse cx="719.7" cy="462.3" rx="0.77" ry="4.6"/><ellipse cx="700.4" cy="421.1" rx="0.64" ry="2.6"/><ellipse cx="718.3" cy="439.2" rx="0.82" ry="4.3"/><ellipse cx="689.8" cy="430.5" rx="0.61" ry="4.8"/><ellipse cx="682.2" cy="435.9" rx="0.69" ry="2.9"/><ellipse cx="695.2" cy="445.5" rx="0.65" ry="4.6"/><ellipse cx="718.8" cy="440.9" rx="0.83" ry="3.0"/><ellipse cx="696.4" cy="427.3" rx="0.76" ry="2.8"/><ellipse cx="733.4" cy="453.9" rx="0.67" ry="3.9"/><ellipse cx="682.7" cy="448.1" rx="0.69" ry="4.5"/><ellipse cx="720.1" cy="439.6" rx="0.78" ry="5.8"/><ellipse cx="696.7" cy="458.9" rx="0.73" ry="2.7"/><ellipse cx="706.0" cy="431.0" rx="0.79" ry="2.7"/><ellipse cx="682.7" cy="444.1" rx="0.64" ry="5.8"/><ellipse cx="693.8" cy="446.5" rx="0.76" ry="4.3"/><ellipse cx="730.0" cy="428.3" rx="0.68" ry="3.6"/><ellipse cx="684.9" cy="458.4" rx="0.78" ry="5.2"/><ellipse cx="682.4" cy="456.5" rx="0.72" ry="5.1"/><ellipse cx="725.8" cy="440.0" rx="0.63" ry="3.3"/><ellipse cx="695.7" cy="422.6" rx="0.79" ry="3.7"/><ellipse cx="723.0" cy="456.5" rx="0.67" ry="5.0"/><ellipse cx="714.7" cy="439.3" rx="0.73" ry="5.3"/><ellipse cx="697.7" cy="448.0" rx="0.65" ry="5.9"/><ellipse cx="733.9" cy="421.6" rx="0.66" ry="3.4"/><ellipse cx="725.9" cy="460.7" rx="0.68" ry="5.1"/><ellipse cx="733.9" cy="434.8" rx="0.83" ry="3.3"/><ellipse cx="719.2" cy="450.1" rx="0.84" ry="4.8"/><ellipse cx="719.2" cy="411.2" rx="0.81" ry="3.4"/><ellipse cx="717.9" cy="407.7" rx="0.68" ry="3.1"/><ellipse cx="708.7" cy="404.7" rx="0.83" ry="2.2"/><ellipse cx="705.9" cy="386.8" rx="0.83" ry="2.2"/><ellipse cx="714.1" cy="390.3" rx="0.61" ry="2.1"/><ellipse cx="728.4" cy="405.0" rx="0.78" ry="3.4"/><ellipse cx="702.7" cy="403.7" rx="0.80" ry="2.7"/><ellipse cx="733.6" cy="412.7" rx="0.82" ry="2.1"/><ellipse cx="737.5" cy="414.3" rx="0.65" ry="2.2"/><ellipse cx="704.6" cy="387.0" rx="0.80" ry="3.7"/></g>
<g stroke="#000" stroke-width="1.2" fill="none"><rect x="121.5" y="100.5" width="813.0" height="434.0" fill="none"/><line x1="105" y1="534.5" x2="121.5" y2="534.5"/><line x1="934.5" y1="534.5" x2="951" y2="534.5"/><line x1="113" y1="512.5" x2="121.5" y2="512.5"/><line x1="934.5" y1="512.5" x2="943" y2="512.5"/><line x1="113" y1="490.5" x2="121.5" y2="490.5"/><line x1="934.5" y1="490.5" x2="943" y2="490.5"/><line x1="113" y1="469.5" x2="121.5" y2="469.5"/><line x1="934.5" y1="469.5" x2="943" y2="469.5"/><line x1="105" y1="447.5" x2="121.5" y2="447.5"/><line x1="934.5" y1="447.5" x2="951" y2="447.5"/><line x1="113" y1="425.5" x2="121.5" y2="425.5"/><line x1="934.5" y1="425.5" x2="943" y2="425.5"/><line x1="113" y1="404.5" x2="121.5" y2="404.5"/><line x1="934.5" y1="404.5" x2="943" y2="404.5"/><line x1="113" y1="382.5" x2="121.5" y2="382.5"/><line x1="934.5" y1="382.5" x2="943" y2="382.5"/><line x1="105" y1="360.5" x2="121.5" y2="360.5"/><line x1="934.5" y1="360.5" x2="951" y2="360.5"/><line x1="113" y1="338.5" x2="121.5" y2="338.5"/><line x1="934.5" y1="338.5" x2="943" y2="338.5"/><line x1="113" y1="317.5" x2="121.5" y2="317.5"/><line x1="934.5" y1="317.5" x2="943" y2="317.5"/><line x1="113" y1="295.5" x2="121.5" y2="295.5"/><line x1="934.5" y1="295.5" x2="943" y2="295.5"/><line x1="105" y1="273.5" x2="121.5" y2="273.5"/><line x1="934.5" y1="273.5" x2="951" y2="273.5"/><line x1="113" y1="252.5" x2="121.5" y2="252.5"/><line x1="934.5" y1="252.5" x2="943" y2="252.5"/><line x1="113" y1="230.5" x2="121.5" y2="230.5"/><line x1="934.5" y1="230.5" x2="943" y2="230.5"/><line x1="113" y1="208.5" x2="121.5" y2="208.5"/><line x1="934.5" y1="208.5" x2="943" y2="208.5"/><line x1="105" y1="186.5" x2="121.5" y2="186.5"/><line x1="934.5" y1="186.5" x2="951" y2="186.5"/><line x1="113" y1="165.5" x2="121.5" y2="165.5"/><line x1="934.5" y1="165.5" x2="943" y2="165.5"/><line x1="113" y1="143.5" x2="121.5" y2="143.5"/><line x1="934.5" y1="143.5" x2="943" y2="143.5"/><line x1="113" y1="121.5" x2="121.5" y2="121.5"/><line x1="934.5" y1="121.5" x2="943" y2="121.5"/><line x1="105" y1="100.5" x2="121.5" y2="100.5"/><line x1="934.5" y1="100.5" x2="951" y2="100.5"/><line x1="161.5" y1="534.5" x2="161.5" y2="530.0"/><line x1="161.5" y1="100.5" x2="161.5" y2="105.0"/><line x1="202.5" y1="534.5" x2="202.5" y2="530.0"/><line x1="202.5" y1="100.5" x2="202.5" y2="105.0"/><line x1="243.5" y1="534.5" x2="243.5" y2="530.0"/><line x1="243.5" y1="100.5" x2="243.5" y2="105.0"/><line x1="283.5" y1="534.5" x2="283.5" y2="526.0"/><line x1="283.5" y1="100.5" x2="283.5" y2="109.0"/><line x1="324.5" y1="534.5" x2="324.5" y2="530.0"/><line x1="324.5" y1="100.5" x2="324.5" y2="105.0"/><line x1="365.5" y1="534.5" x2="365.5" y2="530.0"/><line x1="365.5" y1="100.5" x2="365.5" y2="105.0"/><line x1="405.5" y1="534.5" x2="405.5" y2="530.0"/><line x1="405.5" y1="100.5" x2="405.5" y2="105.0"/><line x1="446.5" y1="534.5" x2="446.5" y2="526.0"/><line x1="446.5" y1="100.5" x2="446.5" y2="109.0"/><line x1="487.5" y1="534.5" x2="487.5" y2="530.0"/><line x1="487.5" y1="100.5" x2="487.5" y2="105.0"/><line x1="527.5" y1="534.5" x2="527.5" y2="530.0"/><line x1="527.5" y1="100.5" x2="527.5" y2="105.0"/><line x1="568.5" y1="534.5" x2="568.5" y2="530.0"/><line x1="568.5" y1="100.5" x2="568.5" y2="105.0"/><line x1="609.5" y1="534.5" x2="609.5" y2="526.0"/><line x1="609.5" y1="100.5" x2="609.5" y2="109.0"/><line x1="649.5" y1="534.5" x2="649.5" y2="530.0"/><line x1="649.5" y1="100.5" x2="649.5" y2="105.0"/><line x1="690.5" y1="534.5" x2="690.5" y2="530.0"/><line x1="690.5" y1="100.5" x2="690.5" y2="105.0"/><line x1="731.5" y1="534.5" x2="731.5" y2="530.0"/><line x1="731.5" y1="100.5" x2="731.5" y2="105.0"/><line x1="771.5" y1="534.5" x2="771.5" y2="526.0"/><line x1="771.5" y1="100.5" x2="771.5" y2="109.0"/><line x1="812.5" y1="534.5" x2="812.5" y2="530.0"/><line x1="812.5" y1="100.5" x2="812.5" y2="105.0"/><line x1="853.5" y1="534.5" x2="853.5" y2="530.0"/><line x1="853.5" y1="100.5" x2="853.5" y2="105.0"/><line x1="893.5" y1="534.5" x2="893.5" y2="530.0"/><line x1="893.5" y1="100.5" x2="893.5" y2="105.0"/></g>
<text transform="translate(113.23,35) scale(0.9750,1)" style='font-family:"Liberation Sans",Arial,sans-serif;font-weight:bold;font-size:33.2px'>Shot</text><text transform="translate(194.74,35) scale(0.9296,1)" style='font-family:"Liberation Sans",Arial,sans-serif;font-weight:bold;font-size:33.2px'>124821</text><text transform="translate(311.08,35.3) scale(1.0095,1)" style='font-family:"Liberation Serif","DejaVu Serif",serif;font-weight:normal;font-size:38px'>ω</text><text transform="translate(334.88,35) scale(0.9600,1)" style='font-family:"Liberation Sans",Arial,sans-serif;font-weight:bold;font-size:33.2px'>B</text><text transform="translate(357.24,35) scale(0.9778,1)" style='font-family:"Liberation Sans",Arial,sans-serif;font-weight:bold;font-size:33.2px'>(</text><text transform="translate(367.78,35.3) scale(1.0095,1)" style='font-family:"Liberation Serif","DejaVu Serif",serif;font-weight:normal;font-size:38px'>ω</text><text transform="translate(392.20,35) scale(0.8333,1)" style='font-family:"Liberation Sans",Arial,sans-serif;font-weight:bold;font-size:33.2px'>)</text><text transform="translate(411.02,35) scale(0.9795,1)" style='font-family:"Liberation Sans",Arial,sans-serif;font-weight:bold;font-size:33.2px'>spectrum</text><text transform="translate(123.11,86) scale(0.9930,1)" style='font-family:"Liberation Sans",Arial,sans-serif;font-weight:bold;font-size:33.2px'>for</text><text transform="translate(178.90,86) scale(1.0218,1)" style='font-family:"Liberation Sans",Arial,sans-serif;font-weight:bold;font-size:33.2px'>toroidal</text><text transform="translate(310.94,86) scale(1.0282,1)" style='font-family:"Liberation Sans",Arial,sans-serif;font-weight:bold;font-size:33.2px'>mode</text><text transform="translate(407.90,86) scale(1.0492,1)" style='font-family:"Liberation Sans",Arial,sans-serif;font-weight:bold;font-size:33.2px'>number:</text><text transform="translate(602.35,85) scale(0.9769,1)" style='font-family:"Liberation Sans",Arial,sans-serif;font-weight:bold;font-size:29px'>1</text><text transform="translate(674.04,85) scale(0.9643,1)" style='font-family:"Liberation Sans",Arial,sans-serif;font-weight:bold;font-size:29px'>2</text><text transform="translate(743.98,85) scale(1.0214,1)" style='font-family:"Liberation Sans",Arial,sans-serif;font-weight:bold;font-size:29px'>3</text><text transform="translate(815.40,85) scale(0.8500,1)" style='font-family:"Liberation Sans",Arial,sans-serif;font-weight:bold;font-size:29px'>4</text><text transform="translate(885.02,85) scale(0.9786,1)" style='font-family:"Liberation Sans",Arial,sans-serif;font-weight:bold;font-size:29px'>5</text><text transform="translate(52.18,115.3) scale(0.9600,1)" style='font-family:"Liberation Sans",Arial,sans-serif;font-weight:bold;font-size:29px'>100</text><text transform="translate(67.33,195.4) scale(0.9700,1)" style='font-family:"Liberation Sans",Arial,sans-serif;font-weight:bold;font-size:29px'>80</text><text transform="translate(67.33,282.3) scale(0.9700,1)" style='font-family:"Liberation Sans",Arial,sans-serif;font-weight:bold;font-size:29px'>60</text><text transform="translate(67.90,369.6) scale(0.9452,1)" style='font-family:"Liberation Sans",Arial,sans-serif;font-weight:bold;font-size:29px'>40</text><text transform="translate(67.33,456.6) scale(0.9700,1)" style='font-family:"Liberation Sans",Arial,sans-serif;font-weight:bold;font-size:29px'>20</text><text transform="translate(82.00,534.5) scale(1.0000,1)" style='font-family:"Liberation Sans",Arial,sans-serif;font-weight:bold;font-size:29px'>0</text><text transform="translate(264.35,568.6) scale(0.9526,1)" style='font-family:"Liberation Sans",Arial,sans-serif;font-weight:bold;font-size:29px'>0.2</text><text transform="translate(427.06,568.6) scale(0.9359,1)" style='font-family:"Liberation Sans",Arial,sans-serif;font-weight:bold;font-size:29px'>0.4</text><text transform="translate(590.04,568.6) scale(0.9605,1)" style='font-family:"Liberation Sans",Arial,sans-serif;font-weight:bold;font-size:29px'>0.6</text><text transform="translate(752.65,568.6) scale(0.9500,1)" style='font-family:"Liberation Sans",Arial,sans-serif;font-weight:bold;font-size:29px'>0.8</text><text transform="translate(476.30,597) scale(0.9413,1)" style='font-family:"Liberation Sans",Arial,sans-serif;font-weight:bold;font-size:29px'>Time (s)</text><text transform="translate(31.7,421.77) rotate(-90) scale(0.9369,1)" style='font-family:"Liberation Sans",Arial,sans-serif;font-weight:bold;font-size:29px'>Frequency (kHz)</text><rect x="583" y="21" width="60" height="19" fill="#000000" stroke="#000" stroke-width="2"/><rect x="654" y="21" width="60" height="19" fill="#ff0000" stroke="#000" stroke-width="2"/><rect x="724" y="21" width="60" height="19" fill="#00ff00" stroke="#000" stroke-width="2"/><rect x="795" y="21" width="60" height="19" fill="#0000ff" stroke="#000" stroke-width="2"/><rect x="865" y="21" width="60" height="19" fill="#ffff00" stroke="#000" stroke-width="2"/>
</svg>
</body></html>
